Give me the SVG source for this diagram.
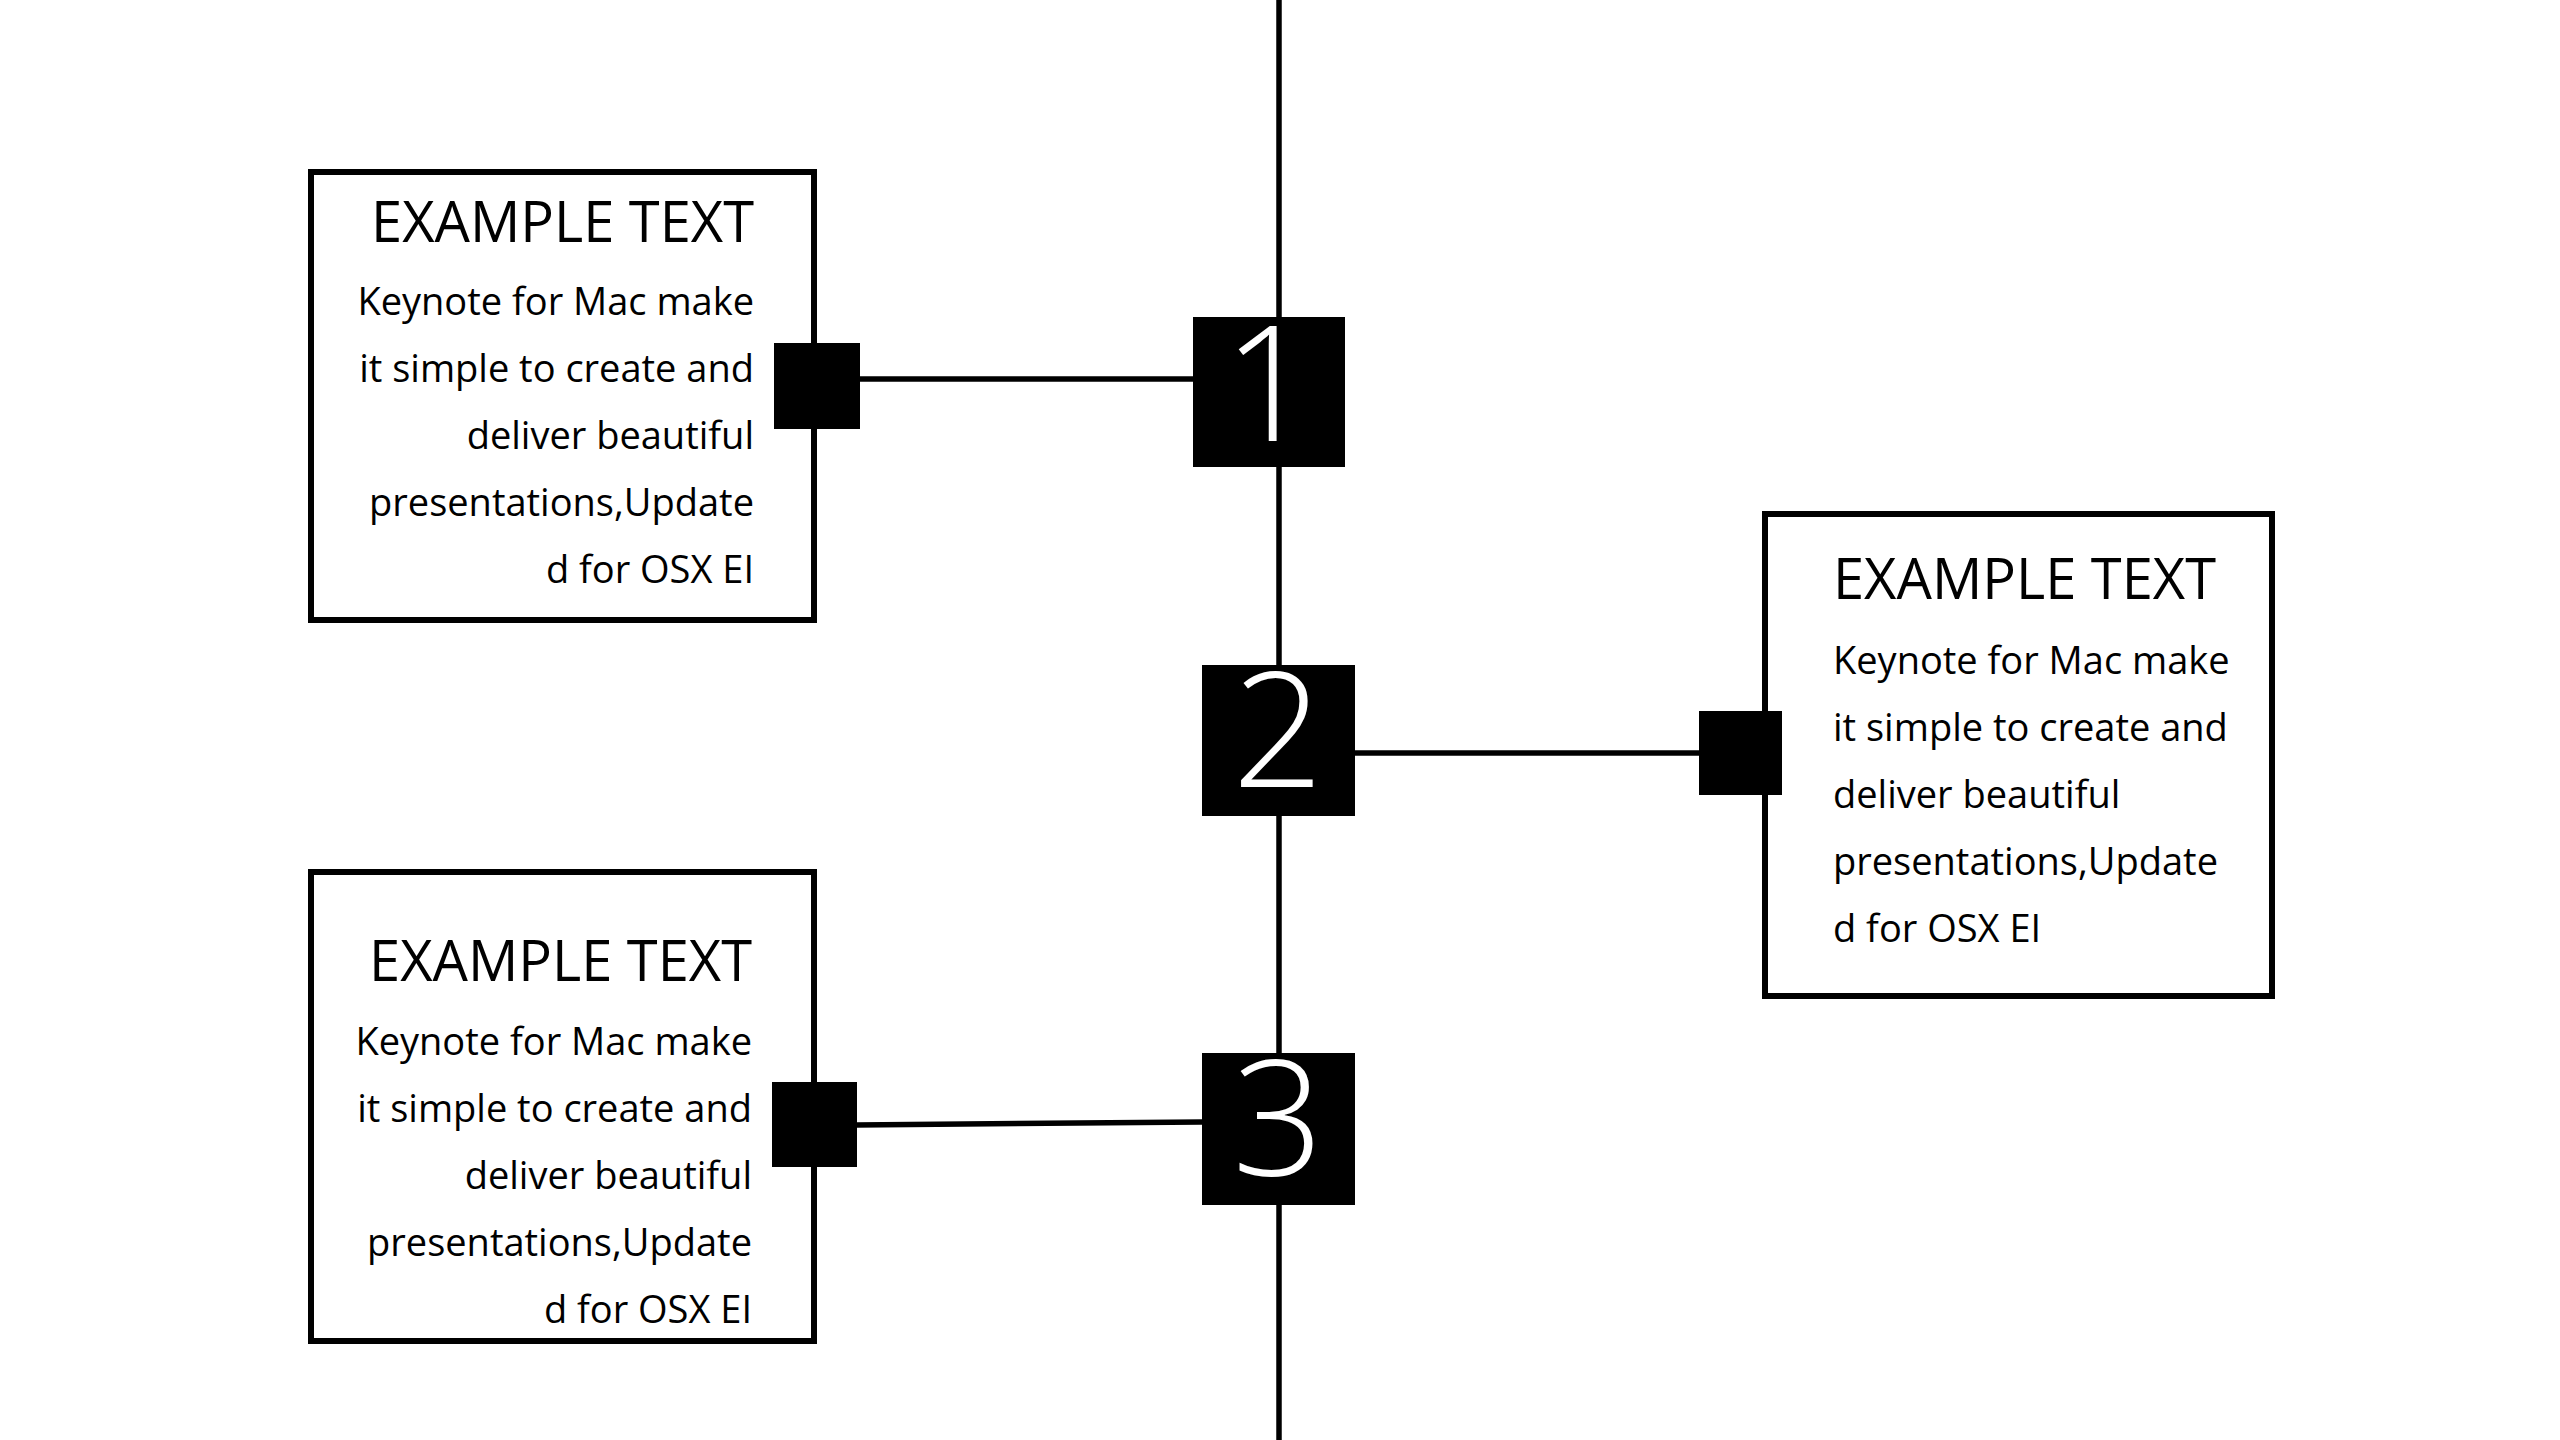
<svg xmlns="http://www.w3.org/2000/svg" width="2560" height="1440" viewBox="0 0 2560 1440">
<style>
.card{fill:#fff;stroke:#000;stroke-width:6}
.conn{stroke:#000;stroke-width:5.5;fill:none}
.sq{fill:#000}
.title{font-family:"Open Sans","Noto Sans",sans-serif;font-size:56px;fill:#000}
.body{font-family:"Open Sans","Noto Sans",sans-serif;font-size:38px;fill:#000}
.num{font-family:"Open Sans","Noto Sans",sans-serif;font-size:160px;font-weight:300;fill:#fff;text-anchor:middle}
.r{text-anchor:end}
</style>
<rect width="2560" height="1440" fill="#fff"/>
<g id="connectors">
<line class="conn" x1="1279" y1="0" x2="1279" y2="1440"/>
<line class="conn" x1="860" y1="379" x2="1194" y2="379"/>
<line class="conn" x1="1355" y1="753" x2="1700" y2="753"/>
<line class="conn" x1="856" y1="1125" x2="1202" y2="1122"/>
</g>
<g id="card-1">
<rect class="card" x="311" y="172" width="503" height="448"/>
<text class="title r" x="754" y="242">EXAMPLE TEXT</text>
<text class="body r" x="754" y="315">Keynote for Mac make</text>
<text class="body r" x="754" y="382">it simple to create and</text>
<text class="body r" x="754" y="449">deliver beautiful</text>
<text class="body r" x="754" y="516">presentations,Update</text>
<text class="body r" x="754" y="583">d for OSX EI</text>
<rect class="sq" x="774" y="343" width="86" height="86"/>
</g>
<g id="card-2">
<rect class="card" x="1765" y="514" width="507" height="482"/>
<text class="title" x="1833" y="599">EXAMPLE TEXT</text>
<text class="body" x="1833" y="674">Keynote for Mac make</text>
<text class="body" x="1833" y="741">it simple to create and</text>
<text class="body" x="1833" y="808">deliver beautiful</text>
<text class="body" x="1833" y="875">presentations,Update</text>
<text class="body" x="1833" y="942">d for OSX EI</text>
<rect class="sq" x="1699" y="711" width="83" height="84"/>
</g>
<g id="card-3">
<rect class="card" x="311" y="872" width="503" height="469"/>
<text class="title r" x="752" y="981">EXAMPLE TEXT</text>
<text class="body r" x="752" y="1055">Keynote for Mac make</text>
<text class="body r" x="752" y="1122">it simple to create and</text>
<text class="body r" x="752" y="1189">deliver beautiful</text>
<text class="body r" x="752" y="1256">presentations,Update</text>
<text class="body r" x="752" y="1323">d for OSX EI</text>
<rect class="sq" x="772" y="1082" width="85" height="85"/>
</g>
<g id="step-1">
<rect class="sq" x="1193" y="317" width="152" height="150"/>
<text class="num" x="1269" y="441">1</text>
</g>
<g id="step-2">
<rect class="sq" x="1202" y="665" width="153" height="151"/>
<text class="num" x="1278" y="787">2</text>
</g>
<g id="step-3">
<rect class="sq" x="1202" y="1053" width="153" height="152"/>
<text class="num" x="1278" y="1175">3</text>
</g>
</svg>
